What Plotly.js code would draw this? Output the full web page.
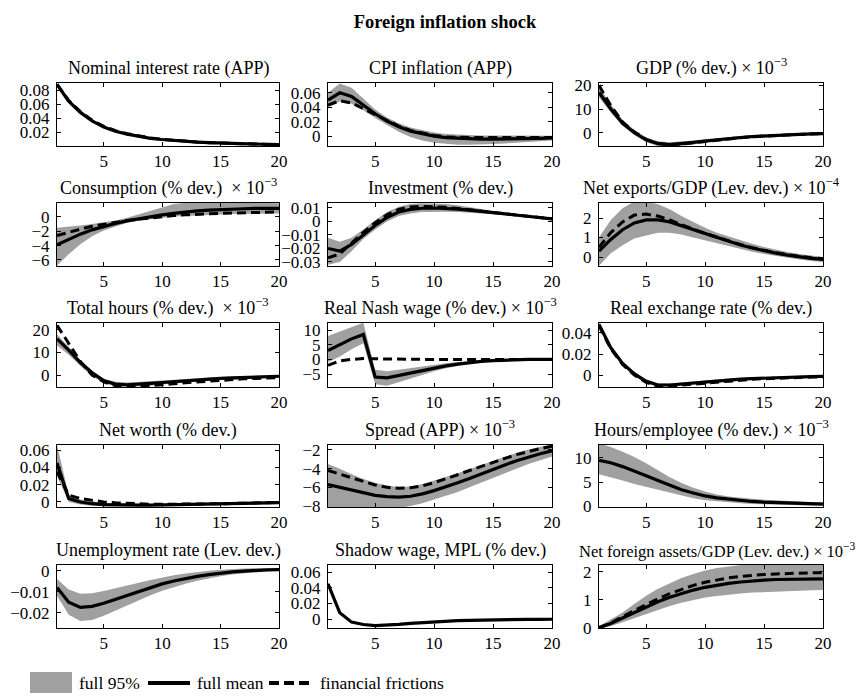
<!DOCTYPE html>
<html><head><meta charset="utf-8">
<script src="https://cdn.plot.ly/plotly-3.0.1.min.js"></script>
<style>body{margin:0;background:#fff}</style>
</head><body><div id="chart" style="width:860px;height:698px"></div>
<script>
const periods = [1,2,3,4,5,6,7,8,9,10,11,12,13,14,15,16,17,18,19,20];

const panelTitles = [
  'Nominal interest rate (APP)', 'CPI inflation (APP)', 'GDP (% dev.) × 10<sup>−3</sup>',
  'Consumption (% dev.) \u00a0× 10<sup>−3</sup>', 'Investment (% dev.)', 'Net exports/GDP (Lev. dev.) × 10<sup>−4</sup>',
  'Total hours (% dev.) \u00a0× 10<sup>−3</sup>', 'Real Nash wage (% dev.) × 10<sup>−3</sup>', 'Real exchange rate (% dev.)',
  'Net worth (% dev.)', 'Spread (APP) × 10<sup>−3</sup>', 'Hours/employee (% dev.) × 10<sup>−3</sup>',
  'Unemployment rate (Lev. dev.)', 'Shadow wage, MPL (% dev.)', 'Net foreign assets/GDP (Lev. dev.) × 10<sup>−3</sup>'
];
const legendLabels = ['full 95%', 'full mean', 'financial frictions'];
const mainTitle = 'Foreign inflation shock';

// 1 Nominal interest rate
const rateMean = [0.088,0.064,0.048,0.036,0.027,0.021,0.017,0.014,0.011,0.0093,0.0078,0.0066,0.0056,0.0048,0.0041,0.0035,0.0030,0.0026,0.0023,0.0020];
const rateLow  = [0.087,0.063,0.047,0.035,0.026,0.020,0.016,0.013,0.010,0.0085,0.0071,0.0060,0.0050,0.0043,0.0036,0.0031,0.0026,0.0022,0.0019,0.0016];
const rateHigh = [0.089,0.065,0.049,0.037,0.028,0.022,0.018,0.015,0.012,0.0101,0.0085,0.0072,0.0062,0.0053,0.0046,0.0039,0.0034,0.0030,0.0027,0.0024];
const rateFF   = [0.088,0.065,0.049,0.037,0.028,0.022,0.0175,0.0142,0.0115,0.0095,0.0079,0.0066,0.0056,0.0048,0.0041,0.0035,0.0030,0.0026,0.0023,0.0020];
// 2 CPI inflation
const cpiMean = [0.050,0.060,0.055,0.043,0.031,0.021,0.013,0.007,0.003,0.000,-0.002,-0.003,-0.004,-0.004,-0.004,-0.004,-0.0035,-0.003,-0.003,-0.0025];
const cpiLow  = [0.040,0.048,0.045,0.036,0.025,0.015,0.006,-0.001,-0.006,-0.009,-0.011,-0.012,-0.012,-0.012,-0.011,-0.010,-0.009,-0.008,-0.007,-0.006];
const cpiHigh = [0.060,0.073,0.067,0.052,0.037,0.026,0.018,0.012,0.008,0.005,0.003,0.002,0.001,0.001,0.001,0.001,0.001,0.001,0.0005,0.0005];
const cpiFF   = [0.043,0.049,0.046,0.038,0.029,0.021,0.014,0.008,0.004,0.001,-0.001,-0.002,-0.002,-0.002,-0.002,-0.002,-0.002,-0.002,-0.002,-0.002];
// 3 GDP
const gdpMean = [17,10,4,0,-3,-4.6,-5,-4.7,-4.1,-3.5,-2.9,-2.4,-2,-1.6,-1.3,-1.05,-0.85,-0.65,-0.5,-0.35];
const gdpLow  = [15,8.5,3,-1,-4,-5.6,-6,-5.6,-5,-4.3,-3.7,-3.1,-2.6,-2.2,-1.9,-1.6,-1.35,-1.15,-1,-0.85];
const gdpHigh = [19.5,12,5.5,1.2,-2,-3.6,-4,-3.8,-3.3,-2.8,-2.2,-1.8,-1.4,-1.1,-0.8,-0.6,-0.4,-0.25,-0.1,0.05];
const gdpFF   = [20,11.5,4.5,0.3,-2.8,-4.5,-5,-4.8,-4.2,-3.6,-3,-2.5,-2.1,-1.7,-1.4,-1.1,-0.9,-0.7,-0.55,-0.4];
// 4 Consumption
const consMean = [-3.9,-3.1,-2.4,-1.8,-1.3,-0.9,-0.55,-0.25,0.05,0.3,0.5,0.7,0.85,0.95,1.05,1.1,1.15,1.2,1.2,1.2];
const consLow  = [-6.8,-5.2,-3.8,-2.7,-1.9,-1.3,-0.8,-0.5,-0.3,-0.1,0.05,0.15,0.25,0.3,0.35,0.4,0.45,0.5,0.5,0.5];
const consHigh = [-1.5,-1.4,-1.2,-1,-0.8,-0.5,-0.1,0.4,0.9,1.4,1.8,2.0,2.1,2.1,2.1,2.1,2.05,2.0,1.95,1.9];
const consFF   = [-2.6,-2.1,-1.7,-1.3,-1.0,-0.75,-0.5,-0.3,-0.1,0.05,0.2,0.3,0.4,0.45,0.5,0.55,0.6,0.65,0.7,0.7];
// 5 Investment
const invMean = [-0.020,-0.022,-0.017,-0.010,-0.003,0.003,0.007,0.009,0.0098,0.010,0.0098,0.0092,0.0084,0.0074,0.0064,0.0054,0.0044,0.0035,0.0027,0.0019];
const invLow  = [-0.032,-0.030,-0.022,-0.013,-0.006,0.000,0.004,0.006,0.007,0.0072,0.0072,0.0070,0.0066,0.006,0.0053,0.0046,0.0038,0.0030,0.0023,0.0016];
const invHigh = [-0.012,-0.015,-0.012,-0.006,0.001,0.007,0.011,0.013,0.0135,0.0135,0.013,0.012,0.0105,0.009,0.0077,0.0064,0.0052,0.0041,0.0032,0.0023];
const invFF   = [-0.027,-0.024,-0.016,-0.008,-0.001,0.005,0.009,0.0108,0.0112,0.011,0.0105,0.0096,0.0086,0.0075,0.0065,0.0055,0.0045,0.0036,0.0028,0.002];
// 6 Net exports/GDP
const nxMean = [0.3,0.9,1.4,1.75,1.9,1.9,1.8,1.6,1.4,1.2,1.0,0.8,0.62,0.46,0.32,0.2,0.1,0.0,-0.07,-0.12];
const nxLow  = [-0.45,0.2,0.6,0.95,1.1,1.25,1.25,1.15,1.0,0.85,0.7,0.55,0.4,0.27,0.15,0.05,-0.05,-0.13,-0.2,-0.25];
const nxHigh = [1.0,1.9,2.5,2.85,2.85,2.7,2.45,2.1,1.8,1.5,1.25,1.05,0.85,0.68,0.52,0.38,0.26,0.15,0.06,0.0];
const nxFF   = [0.5,1.25,1.8,2.15,2.2,2.1,1.9,1.65,1.42,1.21,1.01,0.82,0.64,0.48,0.34,0.22,0.12,0.03,-0.04,-0.09];
// 7 Total hours
const hoursMean = [16,11,5.5,1,-2.5,-4,-4.3,-4.1,-3.7,-3.3,-2.9,-2.5,-2.1,-1.8,-1.5,-1.25,-1.05,-0.85,-0.7,-0.55];
const hoursLow  = [13,9,4,-0.5,-3.5,-5,-5.3,-5.1,-4.7,-4.2,-3.7,-3.3,-2.9,-2.5,-2.2,-1.9,-1.7,-1.5,-1.3,-1.1];
const hoursHigh = [18,12.5,6.5,2,-1.5,-3,-3.3,-3.1,-2.8,-2.4,-2.1,-1.7,-1.4,-1.1,-0.9,-0.7,-0.5,-0.3,-0.2,-0.1];
const hoursFF   = [22,14,6,0,-3,-4.7,-5.1,-5.1,-4.8,-4.4,-3.9,-3.4,-3,-2.6,-2.3,-2,-1.7,-1.5,-1.3,-1.1];
// 8 Real Nash wage
const wageMean = [3,5,7,8.5,-6,-6.3,-5.5,-4.6,-3.7,-2.9,-2.2,-1.6,-1.1,-0.7,-0.45,-0.25,-0.1,0,0,0];
const wageLow  = [-1,1,3.5,5.5,-8.5,-9,-7.8,-6.5,-5.2,-4,-3,-2.2,-1.5,-1,-0.7,-0.45,-0.3,-0.2,-0.1,-0.1];
const wageHigh = [8,9.5,11,12.5,-3.5,-4,-3.5,-2.9,-2.3,-1.8,-1.3,-0.9,-0.6,-0.35,-0.2,-0.05,0.05,0.1,0.1,0.1];
const wageFF   = [-2,-0.5,0,0.3,0.2,0.1,0.05,0,0,0,0,0,0,0,0,0,0,0,0,0];
// 9 Real exchange rate
const rerMean = [0.048,0.026,0.011,0.001,-0.006,-0.0095,-0.0095,-0.0085,-0.0075,-0.0065,-0.0055,-0.0047,-0.004,-0.0034,-0.0029,-0.0024,-0.002,-0.0017,-0.0015,-0.0013];
const rerLow  = [0.046,0.023,0.009,-0.001,-0.008,-0.011,-0.011,-0.010,-0.009,-0.008,-0.007,-0.006,-0.005,-0.0045,-0.004,-0.0035,-0.003,-0.0027,-0.0025,-0.0023];
const rerHigh = [0.050,0.028,0.013,0.003,-0.004,-0.008,-0.008,-0.007,-0.006,-0.005,-0.004,-0.0034,-0.0028,-0.0023,-0.0018,-0.0014,-0.0011,-0.0008,-0.0006,-0.0004];
const rerFF   = [0.047,0.025,0.010,0.000,-0.007,-0.0105,-0.0105,-0.0095,-0.0085,-0.0075,-0.0065,-0.0056,-0.0048,-0.0041,-0.0035,-0.003,-0.0026,-0.0022,-0.0019,-0.0017];
// 10 Net worth
const nwMean = [0.045,0.004,0.000,-0.002,-0.003,-0.0035,-0.0037,-0.0037,-0.0036,-0.0034,-0.0032,-0.003,-0.0027,-0.0024,-0.0021,-0.0018,-0.0015,-0.0012,-0.0009,-0.0007];
const nwLow  = [0.030,0.000,-0.003,-0.0045,-0.005,-0.0052,-0.0052,-0.005,-0.0048,-0.0046,-0.0043,-0.004,-0.0037,-0.0033,-0.003,-0.0026,-0.0023,-0.002,-0.0017,-0.0014];
const nwHigh = [0.066,0.008,0.003,0.001,-0.001,-0.0018,-0.0022,-0.0024,-0.0024,-0.0023,-0.0021,-0.0019,-0.0017,-0.0015,-0.0012,-0.001,-0.0007,-0.0005,-0.0002,0];
const nwFF   = [0.035,0.008,0.004,0.002,0.000,-0.001,-0.0018,-0.0023,-0.0026,-0.0027,-0.0027,-0.0026,-0.0024,-0.0022,-0.002,-0.0017,-0.0014,-0.0011,-0.0008,-0.0006];
// 11 Spread
const sprMean = [-5.7,-6.0,-6.3,-6.6,-6.85,-7.0,-7.05,-6.95,-6.7,-6.35,-5.95,-5.5,-5.05,-4.55,-4.05,-3.6,-3.15,-2.75,-2.4,-2.1];
const sprLow  = [-9,-8.8,-8.6,-8.5,-8.4,-8.3,-8.2,-8.0,-7.7,-7.3,-6.9,-6.5,-6.0,-5.5,-5.0,-4.5,-4.0,-3.5,-3.1,-2.7];
const sprHigh = [-3.5,-4.0,-4.6,-5.1,-5.5,-5.8,-5.95,-5.9,-5.65,-5.3,-4.9,-4.5,-4.05,-3.6,-3.15,-2.7,-2.3,-1.95,-1.65,-1.4];
const sprFF   = [-4.2,-4.6,-5.0,-5.4,-5.75,-6.0,-6.1,-6.05,-5.85,-5.5,-5.1,-4.65,-4.2,-3.75,-3.3,-2.9,-2.5,-2.15,-1.85,-1.6];
// 12 Hours/employee
const hpeMean = [9.5,9,8.2,7.3,6.3,5.3,4.3,3.4,2.7,2.1,1.7,1.4,1.15,0.95,0.8,0.7,0.6,0.52,0.45,0.4];
const hpeLow  = [6.6,6.0,5.3,4.6,4.0,3.3,2.7,2.1,1.6,1.2,0.95,0.75,0.6,0.45,0.35,0.28,0.22,0.17,0.13,0.1];
const hpeHigh = [13,12.3,11.3,10.2,8.9,7.5,6.0,4.8,3.8,3.0,2.4,2.0,1.7,1.5,1.3,1.15,1.0,0.9,0.85,0.8];
// 13 Unemployment rate
const unMean = [-0.008,-0.015,-0.0175,-0.017,-0.0155,-0.0137,-0.0117,-0.0097,-0.0079,-0.0063,-0.0049,-0.0037,-0.0027,-0.0019,-0.0012,-0.0006,-0.0002,0.0002,0.0004,0.0005];
const unLow  = [-0.012,-0.021,-0.024,-0.0235,-0.0215,-0.019,-0.0165,-0.014,-0.0117,-0.0096,-0.0078,-0.0062,-0.0048,-0.0036,-0.0026,-0.0018,-0.0012,-0.0007,-0.0003,0];
const unHigh = [-0.004,-0.009,-0.011,-0.0108,-0.0097,-0.0085,-0.0072,-0.0058,-0.0045,-0.0033,-0.0022,-0.0013,-0.0006,0,0.0004,0.0008,0.001,0.0011,0.0011,0.0011];
// 14 Shadow wage
const swMean = [0.045,0.008,-0.004,-0.007,-0.0085,-0.008,-0.0068,-0.0056,-0.0045,-0.0036,-0.0028,-0.0022,-0.0017,-0.0013,-0.001,-0.0008,-0.0006,-0.0005,-0.0004,-0.0003];
const swLow  = [0.044,0.007,-0.005,-0.008,-0.0095,-0.009,-0.0078,-0.0066,-0.0055,-0.0046,-0.0038,-0.0032,-0.0027,-0.0023,-0.002,-0.0018,-0.0016,-0.0015,-0.0014,-0.0013];
const swHigh = [0.046,0.009,-0.003,-0.006,-0.0075,-0.007,-0.0058,-0.0046,-0.0035,-0.0026,-0.0018,-0.0012,-0.0007,-0.0003,0.0,0.0002,0.0004,0.0005,0.0006,0.0007];
// 15 Net foreign assets/GDP
const nfaMean = [0.0,0.15,0.35,0.55,0.75,0.93,1.09,1.23,1.35,1.45,1.53,1.59,1.64,1.68,1.71,1.73,1.74,1.75,1.75,1.75];
const nfaLow  = [0,0.05,0.2,0.35,0.5,0.65,0.78,0.9,1.0,1.08,1.14,1.19,1.23,1.26,1.28,1.3,1.32,1.33,1.34,1.35];
const nfaHigh = [0.05,0.3,0.55,0.85,1.15,1.4,1.6,1.78,1.93,2.05,2.14,2.2,2.25,2.3,2.32,2.34,2.35,2.35,2.35,2.35];
const nfaFF   = [0,0.17,0.4,0.62,0.84,1.04,1.22,1.38,1.52,1.63,1.72,1.79,1.84,1.88,1.91,1.93,1.95,1.96,1.97,1.97];

const series = [
  [rateMean, rateLow, rateHigh, rateFF],
  [cpiMean, cpiLow, cpiHigh, cpiFF],
  [gdpMean, gdpLow, gdpHigh, gdpFF],
  [consMean, consLow, consHigh, consFF],
  [invMean, invLow, invHigh, invFF],
  [nxMean, nxLow, nxHigh, nxFF],
  [hoursMean, hoursLow, hoursHigh, hoursFF],
  [wageMean, wageLow, wageHigh, wageFF],
  [rerMean, rerLow, rerHigh, rerFF],
  [nwMean, nwLow, nwHigh, nwFF],
  [sprMean, sprLow, sprHigh, sprFF],
  [hpeMean, hpeLow, hpeHigh, null],
  [unMean, unLow, unHigh, null],
  [swMean, swLow, swHigh, null],
  [nfaMean, nfaLow, nfaHigh, nfaFF]
];

// axis settings (layout)
const yRanges = [
  [0, 0.09], [-0.0136, 0.0736], [-5.6, 21],
  [-6.85, 1.95], [-0.033, 0.0137], [-0.46, 2.77],
  [-5.3, 23], [-9.4, 12.4], [-0.0114, 0.0495],
  [-0.0058, 0.0658], [-8.1, -1.47], [-0.2, 12.7],
  [-0.0273, 0.0027], [-0.0115, 0.069], [-0.01, 2.25]
];
const yTicks = [
  [0.02,0.04,0.06,0.08], [0,0.02,0.04,0.06], [0,10,20],
  [-6,-4,-2,0], [-0.03,-0.02,-0.01,0,0.01], [0,1,2],
  [0,10,20], [-5,0,5,10], [0,0.02,0.04],
  [0,0.02,0.04,0.06], [-8,-6,-4,-2], [0,5,10],
  [-0.02,-0.01,0], [0,0.02,0.04,0.06], [0,1,2]
];
const xTicks = [5,10,15,20];

const W = 860, H = 698;
const colPx = [[57,279],[328,552],[599,823]];
const rowPx = [[83,146],[203,266],[323,387],[445,507],[565,628]];
const FONT = 'Liberation Serif, Times New Roman, serif';
const BAND = '#a0a0a0';

const traces = [];
const layout = {
  width: W, height: H,
  margin: {l:0, r:0, t:0, b:0},
  paper_bgcolor: '#fff', plot_bgcolor: '#fff',
  showlegend: false,
  font: {family: FONT, color: '#000', size: 17},
  title: {text: '<b>' + mainTitle + '</b>', font: {family: FONT, size: 18.5, color:'#000'},
          x: 445/W, xanchor: 'center', y: 1 - 22/H, yanchor: 'middle'},
  annotations: [], shapes: []
};

series.forEach((s, i) => {
  const r = Math.floor(i/3), c = i%3;
  const xs = i === 0 ? 'x' : 'x' + (i+1);
  const ys = i === 0 ? 'y' : 'y' + (i+1);
  const xk = i === 0 ? 'xaxis' : 'xaxis' + (i+1);
  const yk = i === 0 ? 'yaxis' : 'yaxis' + (i+1);
  const [mean, low, high, ff] = s;
  traces.push({x: periods, y: low, xaxis: xs, yaxis: ys, mode: 'lines', line: {width: 0, color: BAND}, hoverinfo: 'skip'});
  traces.push({x: periods, y: high, xaxis: xs, yaxis: ys, mode: 'lines', line: {width: 0, color: BAND}, fill: 'tonexty', fillcolor: BAND, hoverinfo: 'skip'});
  traces.push({x: periods, y: mean, xaxis: xs, yaxis: ys, mode: 'lines', line: {width: 3.2, color: '#000'}});
  if (ff) traces.push({x: periods, y: ff, xaxis: xs, yaxis: ys, mode: 'lines', line: {width: 3, color: '#000', dash: '9px,5px'}});

  const dx = [colPx[c][0]/W, colPx[c][1]/W];
  const dy = [1 - rowPx[r][1]/H, 1 - rowPx[r][0]/H];
  const common = {showline: true, linecolor: '#000', linewidth: 1, mirror: 'ticks', ticks: 'inside',
                  ticklen: 4, tickcolor: '#000', showgrid: false, zeroline: false,
                  tickfont: {family: FONT, size: 17, color: '#000'}, fixedrange: true};
  layout[xk] = Object.assign({}, common, {domain: dx, range: [1, 20], tickvals: xTicks, anchor: ys});
  layout[yk] = Object.assign({}, common, {domain: dy, range: yRanges[i], tickvals: yTicks[i], anchor: xs, ticklabelstandoff: 3});
  layout.annotations.push({text: panelTitles[i], xref: 'paper', yref: 'paper',
    x: (dx[0]+dx[1])/2 + (i === 14 ? 6/W : 0), y: dy[1], xanchor: 'center', yanchor: 'bottom', yshift: 2, showarrow: false,
    font: {family: FONT, size: i === 14 ? 16.5 : 18, color: '#000'}});
});

// legend (drawn manually)
const legY = 1 - 683/H;
layout.shapes.push({type: 'rect', xref: 'paper', yref: 'paper', x0: 30/W, x1: 72/W, y0: 1-693/H, y1: 1-672/H, fillcolor: BAND, line: {width: 0}});
layout.shapes.push({type: 'line', xref: 'paper', yref: 'paper', x0: 148/W, x1: 190/W, y0: legY, y1: legY, line: {color: '#000', width: 4}});
layout.shapes.push({type: 'line', xref: 'paper', yref: 'paper', x0: 269/W, x1: 312/W, y0: legY, y1: legY, line: {color: '#000', width: 4, dash: '10px,5px'}});
[[77, legendLabels[0]], [195, legendLabels[1]], [318, legendLabels[2]]].forEach(([px, t]) => {
  layout.annotations.push({text: t, xref: 'paper', yref: 'paper', x: px/W, y: legY, xanchor: 'left', yanchor: 'middle',
    showarrow: false, font: {family: FONT, size: 17.5, color: '#000'}});
});

Plotly.newPlot('chart', traces, layout, {staticPlot: true, displayModeBar: false});
</script>
</body></html>
